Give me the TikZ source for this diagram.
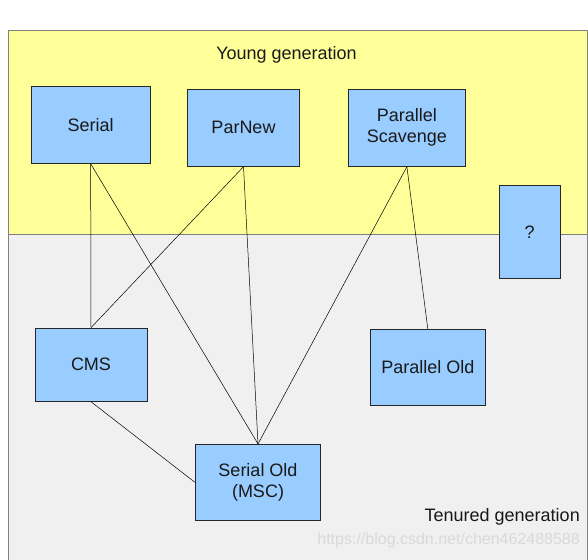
\documentclass[tikz,border=0pt]{standalone}
\usepackage{fontspec}
\setmainfont{Liberation Sans}
\definecolor{younggen}{HTML}{FFFF99}
\definecolor{tenuredgen}{HTML}{F0F0F0}
\definecolor{boxfill}{HTML}{99CCFF}
\definecolor{framegray}{HTML}{808080}
\definecolor{wmark}{HTML}{D9D9D9}
\tikzset{
  gcbox/.style={draw=black!85, line width=0.8pt, fill=boxfill, inner sep=0pt,
    align=center, font=\fontsize{18}{21}\selectfont, text=black!90},
  conn/.style={draw=black, line width=0.5pt},
  region/.style={draw=framegray, line width=0.8pt},
  label/.style={font=\fontsize{18}{21}\selectfont, inner sep=0pt, text=black!90}
}
\begin{document}
\begin{tikzpicture}[x=1pt,y=-1pt]
\useasboundingbox (0,0) rectangle (588,559);
\clip (0,0) rectangle (588,559);
\fill[white] (0,0) rectangle (588,559);
\fill[younggen] (8,30) rectangle (587,234);
\fill[tenuredgen] (8,234) rectangle (587,565);
\draw[region] (8,565) -- (8,30) -- (587,30) -- (587,565);
\draw[region] (8,234) -- (587,234);

\node[label] (young) at (286.5,55) {Young generation};
\node[label, anchor=east] (tenured) at (580,517) {Tenured generation};
\node[anchor=east, inner sep=0pt, font=\fontsize{16}{18}\selectfont, text=wmark] (wm) at (580,540) {https://blog.csdn.net/chen462488588};

\node[gcbox, minimum width=118.7pt, minimum height=77pt] (serial) at (90.65,124.8) {Serial};
\node[gcbox, minimum width=112.4pt, minimum height=77pt] (parnew) at (243.5,127.8) {ParNew};
\node[gcbox, minimum width=117.2pt, minimum height=77pt] (ps) at (406.9,127.8) {Parallel\\Scavenge};
\node[gcbox, minimum width=61.5pt, minimum height=93pt] (q) at (529.7,231.8) {?};
\node[gcbox, minimum width=112pt, minimum height=73.3pt] (cms) at (91,364.7) {CMS};
\node[gcbox, minimum width=115.5pt, minimum height=76pt] (po) at (427.8,367.3) {Parallel Old};
\node[gcbox, minimum width=125.6pt, minimum height=75.7pt] (so) at (258,482.2) {Serial Old\\(MSC)};

\draw[conn] (serial.south) -- (cms.north);
\draw[conn] (serial.south) -- (so.north);
\draw[conn] (parnew.south) -- (cms.north);
\draw[conn] (parnew.south) -- (so.north);
\draw[conn] (ps.south) -- (so.north);
\draw[conn] (ps.south) -- (po.north);
\draw[conn] (cms.south) -- (so.west);
\end{tikzpicture}
\end{document}
